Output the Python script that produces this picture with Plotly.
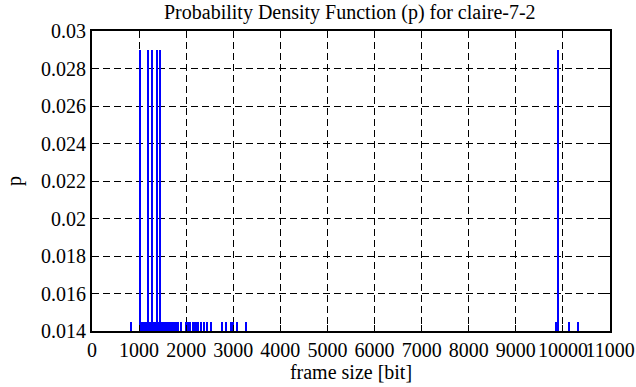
import plotly.graph_objects as go

# frame sizes [bit] observed twice (p ~ 0.029)
sizes_double = [1019, 1195, 1279, 1393, 1457, 9904]
p_double = [0.029, 0.029, 0.029, 0.029, 0.029, 0.029]

# frame sizes [bit] observed once (p ~ 0.0145)
sizes_single = [830, 1060, 1100, 1130, 1160, 1220, 1250, 1310, 1340, 1370, 1420,
                1480, 1510, 1540, 1570, 1600, 1630, 1660, 1690, 1720, 1750, 1790,
                1833, 1883, 2010, 2050, 2080, 2150, 2180, 2210, 2250, 2308, 2378,
                2435, 2520, 2768, 2846, 2952, 3001, 3072, 3270, 9860, 10129, 10327]
p_single = [0.0145] * len(sizes_single)

x_ticks = list(range(0, 12000, 1000))
y_tickvals = [0.014, 0.016, 0.018, 0.02, 0.022, 0.024, 0.026, 0.028, 0.03]
y_ticktext = ["0.014", "0.016", "0.018", "0.02", "0.022", "0.024", "0.026", "0.028", "0.03"]

FAMILY = "Liberation Serif, Times New Roman, serif"
tick_font = dict(family=FAMILY, size=20, color="black")
title_font = dict(family=FAMILY, size=20, color="black")

fig = go.Figure()
fig.add_trace(go.Bar(x=sizes_single, y=p_single, width=28,
                     marker=dict(color="#0000ff", line=dict(width=0)), showlegend=False))
fig.add_trace(go.Bar(x=sizes_double, y=p_double, width=28,
                     marker=dict(color="#0000ff", line=dict(width=0)), showlegend=False))

fig.update_layout(
    width=636, height=387,
    margin=dict(l=92, r=26, t=31, b=56, autoexpand=False),
    paper_bgcolor="white", plot_bgcolor="white",
    barmode="overlay", bargap=0,
    font=dict(family=FAMILY, size=20, color="black"),
    title=dict(text="Probability Density Function (p) for claire-7-2",
               x=0.55, xanchor="center", y=0.988, yanchor="top",
               font=title_font),
)
fig.update_xaxes(
    range=[0, 11000], tickvals=x_ticks, ticktext=[str(v) for v in x_ticks],
    tickfont=tick_font, automargin=False, tickangle=0,
    showgrid=True, gridcolor="black", griddash="7px,4px", gridwidth=1,
    showline=True, linecolor="black", linewidth=2, mirror="ticks",
    ticks="inside", ticklen=6, tickcolor="black", tickwidth=1,
    zeroline=False,
    title=dict(text="frame size [bit]", standoff=5, font=title_font),
)
fig.update_yaxes(
    range=[0.014, 0.03], tickvals=y_tickvals, ticktext=y_ticktext,
    tickfont=tick_font, automargin=False,
    showgrid=True, gridcolor="black", griddash="7px,4px", gridwidth=1,
    showline=True, linecolor="black", linewidth=2, mirror="ticks",
    ticks="inside", ticklen=6, tickcolor="black", tickwidth=1,
    zeroline=False,
    title=dict(text="p", standoff=14, font=title_font),
)

fig.write_html("out.html", config={"displayModeBar": False},
               post_script="document.body.style.margin='0px';")
